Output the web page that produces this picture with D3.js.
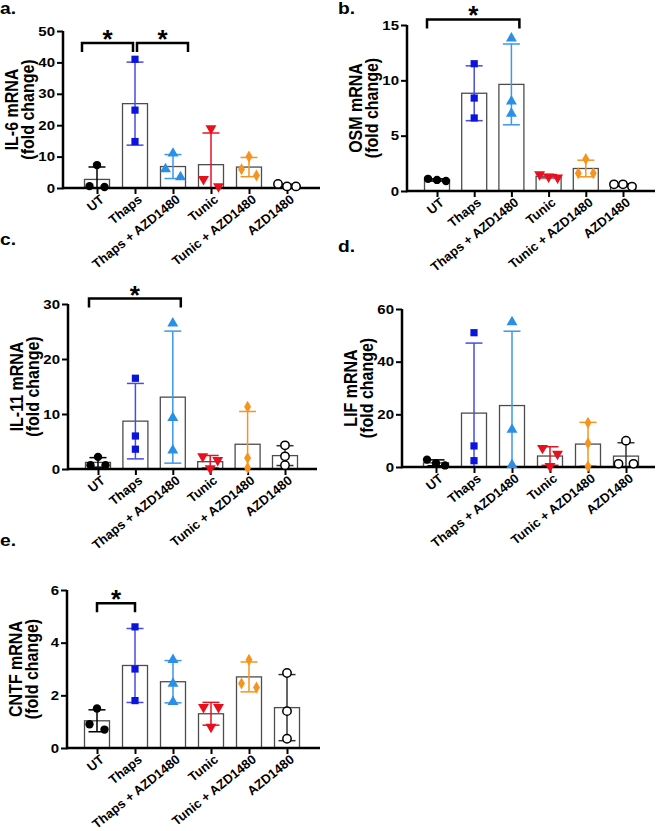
<!DOCTYPE html>
<html><head><meta charset="utf-8">
<script src="https://cdn.jsdelivr.net/npm/d3@7/dist/d3.min.js"></script>
<style>
html,body{margin:0;padding:0;background:#fff;}
svg{display:block;font-family:"Liberation Sans",Arial,Helvetica,sans-serif;}
</style></head>
<body>
<svg id="chart" width="658" height="831"></svg>
<script>
// ---------- data ----------
const categories = ["UT", "Thaps", "Thaps + AZD1480", "Tunic", "Tunic + AZD1480", "AZD1480"];

const il6Values  = [[7.3, 0.6, 0.3], [41, 24.8, 14.8], [11, 6, 3.5], [19, 2.8, 0.5], [10, 6, 4], [1.3, 0.5, 0.5]];
const osmValues  = [[0.9, 1.1, 1.0], [11.5, 8.4, 6.6], [13.8, 8.1, 7.0], [1.2, 1.5, 1.3], [2.9, 1.6, 1.6], [0.4, 0.6, 0.6]];
const il11Values = [[2.2, 0.7, 0.7], [16.5, 6.0, 3.6], [26.5, 9.3, 3.4], [2.3, 1.6, 0.1], [11.3, 2.0, 0.2], [4.3, 2.3, 0.7]];
const lifValues  = [[2.8, 1.4, 0.6], [51, 8, 2.4], [55, 14.2, 0.8], [7.2, 5.0, 0.3], [16.8, 9.0, 0.3], [10, 1.2, 1.2]];
const cntfValues = [[1.5, 0.9, 0.7], [4.6, 3.0, 1.8], [3.35, 2.45, 1.75], [1.55, 1.55, 0.8], [3.35, 2.45, 2.3], [2.85, 1.4, 0.35]];

const il6Ticks  = [0, 10, 20, 30, 40, 50];
const osmTicks  = [0, 5, 10, 15];
const il11Ticks = [0, 10, 20, 30];
const lifTicks  = [0, 20, 40, 60];
const cntfTicks = [0, 2, 4, 6];

// significance: [from index, to index, level in data units]
const il6Sig  = [[0, 1, 46.2], [1, 2, 46.2]];
const osmSig  = [[0, 2, 15.5]];
const il11Sig = [[0, 2, 31]];
const lifSig  = [];
const cntfSig = [[0, 1, 5.5]];

// ---------- styles ----------
const colors = ["#000000", "#0a14dc", "#2b8fe8", "#e8101e", "#f7941d", "#000000"];
const errColors = ["#000000", "#4a4ae6", "#3d97ea", "#e8101e", "#f7941d", "#333333"];
const symbols = ["circle", "square", "triangle", "triangleDown", "diamond", "openCircle"];
const SX = 1.2; // horizontal stretch of upright lettering

const panels = [
  {letter: "a.", lx: 0, ly: 14, title: "IL-6 mRNA", values: il6Values, ticks: il6Ticks, sig: il6Sig,
   left: 63, top: 31, bottom: 188, right: 320, c0: 97, c1: 287, sigPad: [[-15, -2], [2, 15]]},
  {letter: "b.", lx: 338, ly: 14, title: "OSM mRNA", values: osmValues, ticks: osmTicks, sig: osmSig,
   left: 407, top: 25, bottom: 191, right: 655, c0: 437, c1: 623, sigPad: [[-10, 8]]},
  {letter: "c.", lx: 0, ly: 245, title: "IL-11 mRNA", values: il11Values, ticks: il11Ticks, sig: il11Sig,
   left: 68, top: 304, bottom: 469, right: 317, c0: 98, c1: 285, sigPad: [[-9, 8]]},
  {letter: "d.", lx: 338, ly: 252, title: "LIF mRNA", values: lifValues, ticks: lifTicks, sig: lifSig,
   left: 402, top: 309, bottom: 467, right: 655, c0: 436, c1: 626, sigPad: []},
  {letter: "e.", lx: 0, ly: 546, title: "CNTF mRNA", values: cntfValues, ticks: cntfTicks, sig: cntfSig,
   left: 67, top: 590, bottom: 748, right: 320, c0: 97, c1: 287, sigPad: [[0, 0]]}
];

const svg = d3.select("#chart");
const barW = 25, capW = 17;

function symbolPath(kind) {
  switch (kind) {
    case "circle": case "openCircle": return d3.symbol(d3.symbolCircle, 55)();
    case "square": return d3.symbol(d3.symbolSquare, 52)();
    case "triangle": case "triangleDown": return d3.symbol(d3.symbolTriangle, 52)();
    case "diamond": return d3.symbol(d3.symbolDiamond, 42)();
  }
}

panels.forEach(p => {
  const g = svg.append("g");
  const y = d3.scaleLinear().domain([p.ticks[0], p.ticks[p.ticks.length - 1]]).range([p.bottom, p.top]);
  const x = d3.scalePoint().domain(categories).range([p.c0, p.c1]);

  // panel letter
  svg.append("text").attr("transform", `translate(${p.lx},${p.ly}) scale(${SX},1)`)
    .attr("font-size", 16).attr("font-weight", "bold").text(p.letter);

  // y label
  const midY = (p.top + p.bottom) / 2;
  g.append("text").attr("transform", `translate(${p.left - 45},${midY}) scale(${SX},1) rotate(-90)`)
    .attr("text-anchor", "middle").attr("font-size", 16).attr("font-weight", "bold").text(p.title);
  g.append("text").attr("transform", `translate(${p.left - 29},${midY}) scale(${SX},1) rotate(-90)`)
    .attr("text-anchor", "middle").attr("font-size", 16).attr("font-weight", "bold").text("(fold change)");

  // bars
  const stats = p.values.map((vals, i) => {
    const m = d3.mean(vals), sd = d3.deviation(vals);
    return {cat: categories[i], i, m, sd, vals};
  });

  g.selectAll("rect.bar").data(stats).join("rect")
    .attr("x", d => x(d.cat) - barW / 2).attr("width", barW)
    .attr("y", d => y(d.m)).attr("height", d => y(0) - y(d.m))
    .attr("fill", "#fff").attr("stroke", "#4d4d4d").attr("stroke-width", 1.3);

  // error bars
  stats.forEach(d => {
    const cx = x(d.cat);
    const hi = d.m + d.sd, lo = Math.max(0, d.m - d.sd);
    const col = errColors[d.i];
    g.append("line").attr("x1", cx).attr("x2", cx).attr("y1", y(hi)).attr("y2", y(lo))
      .attr("stroke", col).attr("stroke-width", 1.5);
    g.append("line").attr("x1", cx - capW / 2).attr("x2", cx + capW / 2).attr("y1", y(hi)).attr("y2", y(hi))
      .attr("stroke", col).attr("stroke-width", 1.5);
    if (d.m - d.sd > 0) {
      g.append("line").attr("x1", cx - capW / 2).attr("x2", cx + capW / 2).attr("y1", y(lo)).attr("y2", y(lo))
        .attr("stroke", col).attr("stroke-width", 1.5);
    }
  });

  // axes
  const yAxis = d3.axisLeft(y).tickValues(p.ticks).tickSize(6).tickPadding(3).tickFormat(d3.format("d"));
  const ya = g.append("g").attr("transform", `translate(${p.left},0)`).call(yAxis);
  ya.select(".domain").attr("stroke-width", 2.5).attr("d", `M0,${p.bottom + 1.25}V${p.top}`);
  ya.selectAll(".tick line").attr("stroke-width", 2);
  ya.selectAll(".tick text").attr("font-size", 12.5).attr("font-weight", "bold").attr("fill", "#000")
    .attr("font-family", "'Liberation Sans',Arial,sans-serif")
    .attr("x", -8 / SX).attr("transform", `scale(${SX},1)`);

  const xAxis = d3.axisBottom(x).tickSize(6).tickSizeOuter(0).tickFormat("");
  const xa = g.append("g").attr("transform", `translate(0,${p.bottom})`).call(xAxis);
  xa.select(".domain").attr("stroke-width", 2.5).attr("d", `M${p.left},0H${p.right}`);
  xa.selectAll(".tick line").attr("stroke-width", 2);

  // category labels
  g.selectAll("text.cat").data(categories).join("text").attr("class", "cat")
    .attr("transform", d => `translate(${x(d) + 8},${p.bottom + 13}) rotate(-39)`)
    .attr("text-anchor", "end").attr("font-size", 13).attr("font-weight", "bold").text(d => d);

  // points (beeswarm-like spreading of near values)
  stats.forEach(d => {
    const pts = d.vals.map(v => ({v, py: y(v)})).sort((a, b) => b.v - a.v);
    const clusters = [];
    pts.forEach(pt => {
      const last = clusters[clusters.length - 1];
      if (last && Math.abs(pt.py - last[last.length - 1].py) < 8) last.push(pt);
      else clusters.push([pt]);
    });
    const cx = x(d.cat);
    clusters.forEach(cl => {
      const n = cl.length, sp = n === 2 ? 15 : 9;
      cl.forEach((pt, k) => { pt.px = cx + (k - (n - 1) / 2) * sp; });
    });
    const kind = symbols[d.i];
    g.selectAll(null).data(pts).join("path")
      .attr("d", symbolPath(kind))
      .attr("transform", pt => `translate(${pt.px},${pt.py})` + (kind === "triangleDown" ? " rotate(180)" : ""))
      .attr("fill", kind === "openCircle" ? "#fff" : colors[d.i])
      .attr("stroke", kind === "openCircle" ? "#000" : "none")
      .attr("stroke-width", 1.5);
  });

  // significance brackets
  p.sig.forEach((s, k) => {
    const x1 = x(categories[s[0]]) + p.sigPad[k][0];
    const x2 = x(categories[s[1]]) + p.sigPad[k][1];
    const yy = y(s[2]);
    g.append("path").attr("d", `M${x1},${yy + 9}V${yy}H${x2}V${yy + 9}`)
      .attr("fill", "none").attr("stroke", "#000").attr("stroke-width", 2.5);
    g.append("text").attr("x", (x1 + x2) / 2).attr("y", yy + 5).attr("text-anchor", "middle")
      .attr("font-size", 26).attr("font-weight", "bold").text("*");
  });
});
</script>
</body></html>
